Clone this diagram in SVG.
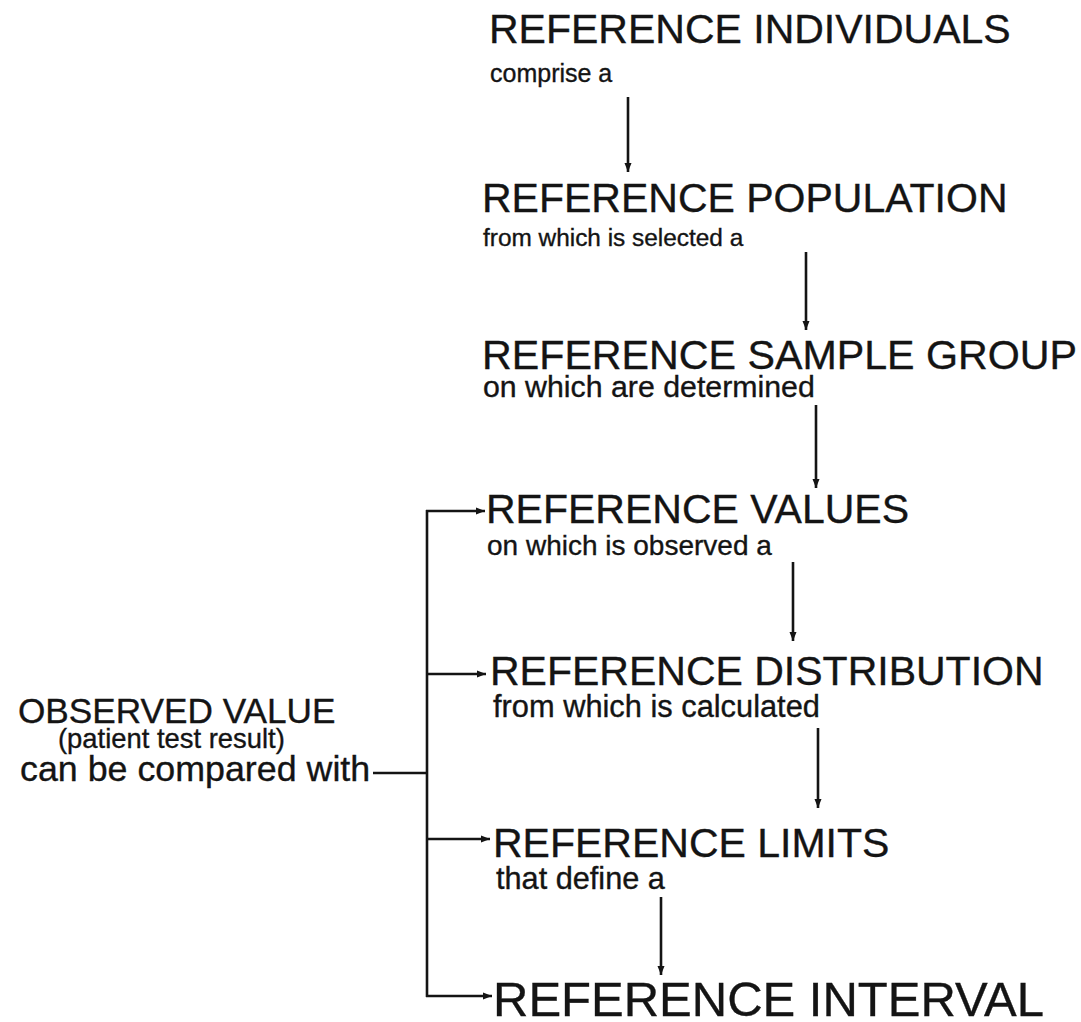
<svg xmlns="http://www.w3.org/2000/svg" width="1081" height="1022" viewBox="0 0 1081 1022">
<style>
text{font-family:"Liberation Sans",Arial,sans-serif;fill:#141414;stroke:#141414;stroke-width:0.35}
.t{font-size:41px}
.c{stroke:#141414;stroke-width:2.6;fill:none}
</style>
<defs>
<marker id="ah" markerUnits="userSpaceOnUse" markerWidth="10" markerHeight="9" refX="9" refY="4.5" orient="auto">
<path d="M0,1 L9,4.5 L0,8 Z" fill="#141414"/>
</marker>
</defs>
<rect width="1081" height="1022" fill="#fff"/>
<g id="connectors">
<line class="c" x1="628" y1="97" x2="628" y2="172" marker-end="url(#ah)"/>
<line class="c" x1="806" y1="252" x2="806" y2="330" marker-end="url(#ah)"/>
<line class="c" x1="816" y1="405" x2="816" y2="488" marker-end="url(#ah)"/>
<line class="c" x1="793" y1="562" x2="793" y2="641" marker-end="url(#ah)"/>
<line class="c" x1="818" y1="728" x2="818" y2="808" marker-end="url(#ah)"/>
<line class="c" x1="661" y1="897" x2="661" y2="975" marker-end="url(#ah)"/>
<line class="c" x1="373" y1="773" x2="427" y2="773"/>
<line class="c" x1="427" y1="510" x2="427" y2="997"/>
<line class="c" x1="426" y1="511" x2="485" y2="511" marker-end="url(#ah)"/>
<line class="c" x1="427" y1="674" x2="486" y2="674" marker-end="url(#ah)"/>
<line class="c" x1="427" y1="839" x2="490" y2="839" marker-end="url(#ah)"/>
<line class="c" x1="426" y1="996" x2="492" y2="996" marker-end="url(#ah)"/>
</g>
<g id="individuals">
<text class="t" x="489" y="43">REFERENCE INDIVIDUALS</text>
<text x="490" y="82" font-size="25">comprise a</text>
</g>
<g id="population">
<text class="t" x="482" y="212">REFERENCE POPULATION</text>
<text x="483" y="246" font-size="24.4">from which is selected a</text>
</g>
<g id="sample-group">
<text x="482" y="369" font-size="41.2">REFERENCE SAMPLE GROUP</text>
<text x="483" y="397" font-size="30.3">on which are determined</text>
</g>
<g id="values">
<text class="t" x="486" y="523">REFERENCE VALUES</text>
<text x="487" y="555" font-size="28">on which is observed a</text>
</g>
<g id="distribution">
<text class="t" x="490" y="685">REFERENCE DISTRIBUTION</text>
<text x="493" y="717" font-size="30.8">from which is calculated</text>
</g>
<g id="limits">
<text class="t" x="493" y="857">REFERENCE LIMITS</text>
<text x="496" y="889" font-size="30.7">that define a</text>
</g>
<g id="interval">
<text x="493" y="1016" font-size="49">REFERENCE INTERVAL</text>
</g>
<g id="observed">
<text x="18" y="723" font-size="35.2">OBSERVED VALUE</text>
<text x="58" y="748" font-size="27.4">(patient test result)</text>
<text x="20" y="781" font-size="35.8">can be compared with</text>
</g>
</svg>
